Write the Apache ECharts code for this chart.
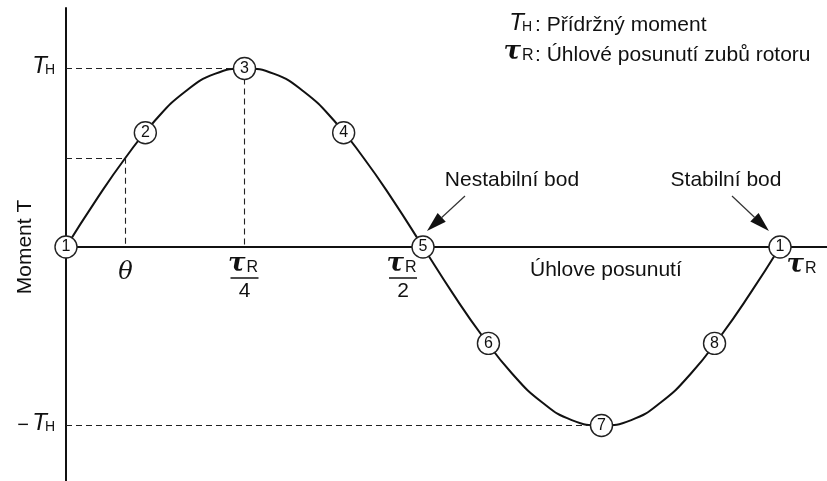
<!DOCTYPE html>
<html>
<head>
<meta charset="utf-8">
<script src="https://cdn.jsdelivr.net/npm/echarts@6/dist/echarts.min.js"></script>
<style>
html, body { margin: 0; padding: 0; background: #fff; }
#chart { width: 827px; height: 481px; }
</style>
</head>
<body>
<div id="chart"></div>
<script>
// Static torque of a stepping motor over one rotor tooth pitch (angle in degrees of τR)
const angleDeg = [0, 15, 30, 45, 60, 75, 90, 105, 120, 135, 150, 165, 180,
                  195, 210, 225, 240, 255, 270, 285, 300, 315, 330, 345, 360];
const torque = [0, 0.26, 0.5, 0.71, 0.87, 0.97, 1, 0.97, 0.87, 0.71, 0.5, 0.26, 0,
                -0.26, -0.5, -0.71, -0.87, -0.97, -1, -0.97, -0.87, -0.71, -0.5, -0.26, 0];

// Numbered rotor positions along the curve
const pointNames = ['1', '2', '3', '4', '5', '6', '7', '8', '1'];
const pointAngle = [0, 40, 90, 140, 180, 213, 270, 327, 360];
const pointTorque = [0, 0.64, 1, 0.64, 0, -0.54, -1, -0.54, 0];

// Reference values for the guide lines and tick captions
const thetaAngle = 30;
const thetaTorque = 0.5;
const holdingTorque = 1;
const quarterPitch = 90;
const halfPitch = 180;
const fullPitch = 360;
const troughAngle = 270;

// Axis extents
const xMin = 0, xMax = 383.7;
const yMin = -1.311, yMax = 1.339;

// Texts
const yAxisName = 'Moment T';
const xAxisName = 'Úhlove posunutí';
const legendHolding = ': Přídržný moment';
const legendPitch = ': Úhlové posunutí zubů rotoru';
const unstableText = 'Nestabilní bod';
const stableText = 'Stabilní bod';

const TXT = '"Liberation Sans", Arial, sans-serif';
const SERIF = '"DejaVu Serif", "Liberation Serif", serif';
const INK = '#111';

const chart = echarts.init(document.getElementById('chart'), null, { renderer: 'canvas' });

const dashStyle = { color: '#222', width: 1.1, type: [6, 4] };

chart.setOption({
  animation: false,
  backgroundColor: '#fff',
  grid: { left: 66, right: 0, top: 8, bottom: 0, containLabel: false },
  xAxis: {
    type: 'value', min: xMin, max: xMax,
    axisLine: { show: true, onZero: true, lineStyle: { color: INK, width: 2 } },
    axisTick: { show: false }, axisLabel: { show: false }, splitLine: { show: false }
  },
  yAxis: {
    type: 'value', min: yMin, max: yMax,
    axisLine: { show: true, onZero: false, lineStyle: { color: INK, width: 2 } },
    axisTick: { show: false }, axisLabel: { show: false }, splitLine: { show: false }
  },
  series: [
    {
      type: 'line',
      name: 'torque',
      data: angleDeg.map((a, i) => [a, torque[i]]),
      smooth: true,
      symbol: 'none',
      lineStyle: { color: INK, width: 2 },
      z: 2,
      markLine: {
        silent: true,
        symbol: ['none', 'none'],
        label: { show: false },
        lineStyle: dashStyle,
        data: [
          [{ coord: [xMin, holdingTorque] }, { coord: [quarterPitch, holdingTorque] }],
          [{ coord: [quarterPitch, holdingTorque] }, { coord: [quarterPitch, 0] }],
          [{ coord: [xMin, thetaTorque] }, { coord: [thetaAngle, thetaTorque] }],
          [{ coord: [thetaAngle, thetaTorque] }, { coord: [thetaAngle, 0] }],
          [{ coord: [xMin, -holdingTorque] }, { coord: [troughAngle, -holdingTorque] }]
        ]
      }
    },
    {
      type: 'scatter',
      name: 'positions',
      data: pointAngle.map((a, i) => ({ value: [a, pointTorque[i]], name: pointNames[i] })),
      symbol: 'circle',
      symbolSize: 22,
      itemStyle: { color: '#fff', borderColor: '#222', borderWidth: 1.4, opacity: 1 },
      label: {
        show: true, position: 'inside', formatter: p => p.name,
        fontFamily: TXT, fontSize: 16, color: INK
      },
      z: 5
    }
  ]
});

const px = (x, y) => chart.convertToPixel({ gridIndex: 0 }, [x, y]);

function txt(x, y, text, font, align, vAlign) {
  return {
    type: 'text', z: 20,
    style: {
      x: x, y: y, text: text, font: font, fill: INK,
      align: align || 'left', verticalAlign: vAlign || 'middle',
      textAlign: align || 'left', textVerticalAlign: vAlign || 'middle'
    }
  };
}

// Straight arrow with a filled triangular head ending at (x2, y2)
function arrow(x1, y1, x2, y2) {
  const dx = x2 - x1, dy = y2 - y1;
  const len = Math.hypot(dx, dy);
  const ux = dx / len, uy = dy / len;
  const headLen = 20, halfW = 6;
  const bx = x2 - ux * headLen, by = y2 - uy * headLen;
  return [
    { type: 'line', z: 20, shape: { x1: x1, y1: y1, x2: bx, y2: by },
      style: { stroke: '#333', lineWidth: 1.2 } },
    { type: 'polygon', z: 20,
      shape: { points: [[x2, y2], [bx - uy * halfW, by + ux * halfW], [bx + uy * halfW, by - ux * halfW]] },
      style: { fill: INK } }
  ];
}

// τR symbol: italic tau followed by a small upright R
function tauR(cx, cy, tauFont, rFont) {
  return [
    txt(cx + 1, cy + 10, 'τ', tauFont, 'right', 'bottom'),
    txt(cx + 2, cy + 9, 'R', rFont, 'left', 'bottom')
  ];
}

// Fraction τR / n centred at x
function fraction(cx, topY, den) {
  return [
    ...tauR(cx, topY, 'italic bold 26px ' + SERIF, '16px ' + TXT),
    { type: 'line', z: 20, shape: { x1: cx - 14, y1: topY + 11, x2: cx + 14, y2: topY + 11 },
      style: { stroke: INK, lineWidth: 1.5 } },
    txt(cx, topY + 24, den, '21px ' + TXT, 'center', 'middle')
  ];
}

// Italic T with a small upright H (holding torque symbol), right edge of T at x
function holdingSymbol(x, y) {
  return [
    txt(x, y + 10, 'T', 'italic 24px ' + TXT, 'right', 'bottom'),
    txt(x - 2, y + 9, 'H', '14px ' + TXT, 'left', 'bottom')
  ];
}

function buildGraphics() {
  const [ax0, ay0] = px(xMin, 0);
  const [, yTop] = px(xMin, holdingTorque);
  const [, yBot] = px(xMin, -holdingTorque);
  const [xTheta] = px(thetaAngle, 0);
  const [xQuarter] = px(quarterPitch, 0);
  const [xHalf] = px(halfPitch, 0);
  const [xFull] = px(fullPitch, 0);

  const els = [];
  // y tick captions: TH and −TH
  els.push(...holdingSymbol(ax0 - 19, yTop));
  els.push(...holdingSymbol(ax0 - 19, yBot));
  els.push(txt(ax0 - 37, yBot, '−', '20px ' + TXT, 'right', 'middle'));

  // x tick captions
  els.push(txt(xTheta, ay0 + 26, 'θ', 'italic 24px ' + SERIF, 'center', 'middle'));
  els.push(...fraction(xQuarter, ay0 + 20, '4'));
  els.push(...fraction(xHalf - 20, ay0 + 20, '2'));
  els.push(...tauR(xFull + 23, ay0 + 21, 'italic bold 26px ' + SERIF, '16px ' + TXT));

  // axis names
  els.push({
    type: 'text', z: 20, x: 25, y: ay0, rotation: Math.PI / 2,
    style: { x: 0, y: 0, text: yAxisName, font: '21px ' + TXT, fill: INK,
             align: 'center', verticalAlign: 'middle', textAlign: 'center', textVerticalAlign: 'middle' }
  });
  els.push(txt(530, ay0 + 23, xAxisName, '21px ' + TXT, 'left', 'middle'));

  // legend of symbols
  els.push(...holdingSymbol(524, 25));
  els.push(txt(535, 25, legendHolding, '21px ' + TXT, 'left', 'middle'));
  els.push(...tauR(520, 55, 'italic bold 26px ' + SERIF, '16px ' + TXT));
  els.push(txt(535, 55, legendPitch, '21px ' + TXT, 'left', 'middle'));

  // stability annotations
  els.push(txt(512, 180, unstableText, '21px ' + TXT, 'center', 'middle'));
  els.push(...arrow(465, 196, xHalf + 4, ay0 - 16));
  els.push(txt(726, 180, stableText, '21px ' + TXT, 'center', 'middle'));
  els.push(...arrow(732, 196, xFull - 11, ay0 - 16));

  return els;
}

chart.setOption({ graphic: { elements: buildGraphics() } });
</script>
</body>
</html>
